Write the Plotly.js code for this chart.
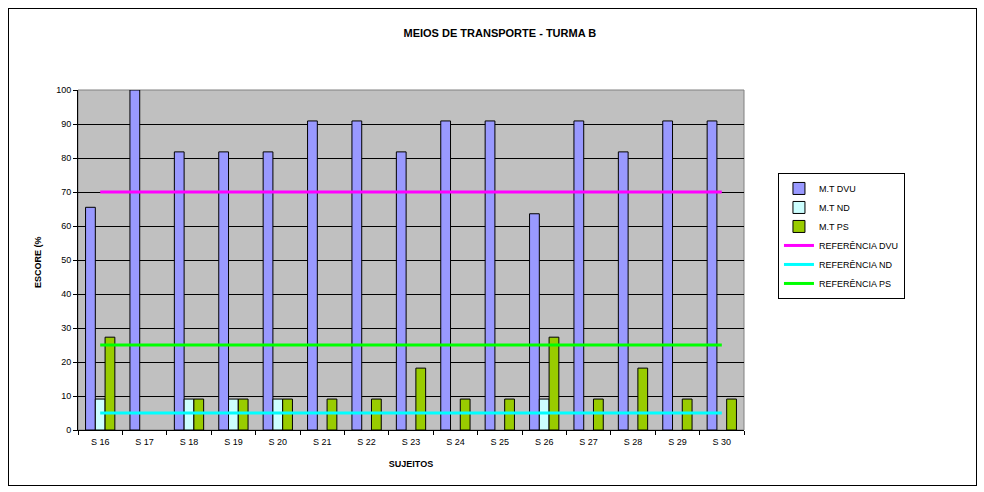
<!DOCTYPE html>
<html><head><meta charset="utf-8">
<script src="https://cdn.plot.ly/plotly-3.0.1.min.js"></script>
<style>
html,body{margin:0;padding:0;background:#fff;}
#frame{position:absolute;left:8px;top:8px;width:967px;height:476px;border:1px solid #000;pointer-events:none;z-index:10;}
#chart{position:absolute;left:0;top:0;width:984px;height:492px;}
</style></head>
<body>
<div id="chart"></div>
<div id="frame"></div>
<script>
const categories = ["S 16","S 17","S 18","S 19","S 20","S 21","S 22","S 23","S 24","S 25","S 26","S 27","S 28","S 29","S 30"];
const mtDVU = [65.5,100,81.8,81.8,81.8,90.9,90.9,81.8,90.9,90.9,63.6,90.9,81.8,90.9,90.9];
const mtND  = [9.1,0,9.1,9.1,9.1,0,0,0,0,0,9.1,0,0,0,0];
const mtPS  = [27.3,0,9.1,9.1,9.1,9.1,9.1,18.2,9.1,9.1,27.3,9.1,18.2,9.1,9.1];
const refDVU = 70, refND = 5, refPS = 25;
const seriesNames = ["M.T DVU","M.T ND","M.T PS","REFERÊNCIA DVU","REFERÊNCIA ND","REFERÊNCIA PS"];

const bar = (y, name, color) => ({type:'bar', x:categories, y:y, name:name,
  marker:{color:color, line:{color:'#000', width:y.map(v => v > 0 ? 1 : 0)}}, hoverinfo:'x+y'});
const ref = (v, name, color) => ({type:'scatter', mode:'lines', x:categories,
  y:categories.map(()=>v), name:name, line:{color:color, width:3}});

const data = [
  bar(mtDVU, seriesNames[0], '#9999FF'),
  bar(mtND, seriesNames[1], '#CCFFFF'),
  bar(mtPS, seriesNames[2], '#99CC00'),
  ref(refDVU, seriesNames[3], '#FF00FF'),
  ref(refND, seriesNames[4], '#00FFFF'),
  ref(refPS, seriesNames[5], '#00FF00')
];

const layout = {
  width:984, height:492,
  margin:{l:78, r:240, t:90, b:62},
  paper_bgcolor:'#fff', plot_bgcolor:'#C0C0C0',
  font:{family:'Liberation Sans, Arial, sans-serif', size:9, color:'#000'},
  title:{text:'<b>MEIOS DE TRANSPORTE - TURMA B</b>', font:{size:11}, x:0.508, xref:'container', y:0.94, yref:'container', xanchor:'center'},
  barmode:'group', bargap:0.34, bargroupgap:0,
  showlegend:true,
  legend:{x:1.051, xanchor:'left', y:0.756, yanchor:'top', bgcolor:'#fff', bordercolor:'#000', borderwidth:1,
    font:{size:9}, tracegroupgap:0, itemwidth:30},
  xaxis:{type:'category', tickson:'boundaries', ticks:'outside', ticklen:4, tickcolor:'#000',
    showline:true, linecolor:'#000', linewidth:1, showgrid:false, mirror:false,
    tickfont:{size:9}, ticklabelstandoff:3,
    title:{text:'<b>SUJEITOS</b>', font:{size:9}, standoff:14}},
  yaxis:{range:[0,100], dtick:10, ticks:'outside', ticklen:4, tickcolor:'#000',
    showline:true, linecolor:'#000', linewidth:1, showgrid:true, gridcolor:'#000', gridwidth:1,
    zeroline:false, tickfont:{size:9}},
  annotations:[{text:'<b>ESCORE (%</b>', textangle:-90, xref:'paper', yref:'paper', x:-0.06, y:0.494,
    xanchor:'center', yanchor:'middle', showarrow:false, font:{size:9}}],
  shapes:[{type:'rect', xref:'paper', yref:'paper', x0:0, x1:1, y0:0, y1:1, line:{color:'#808080', width:1}, layer:'below'}]
};
Plotly.newPlot('chart', data, layout, {displayModeBar:false, staticPlot:true});
</script>
</body></html>
